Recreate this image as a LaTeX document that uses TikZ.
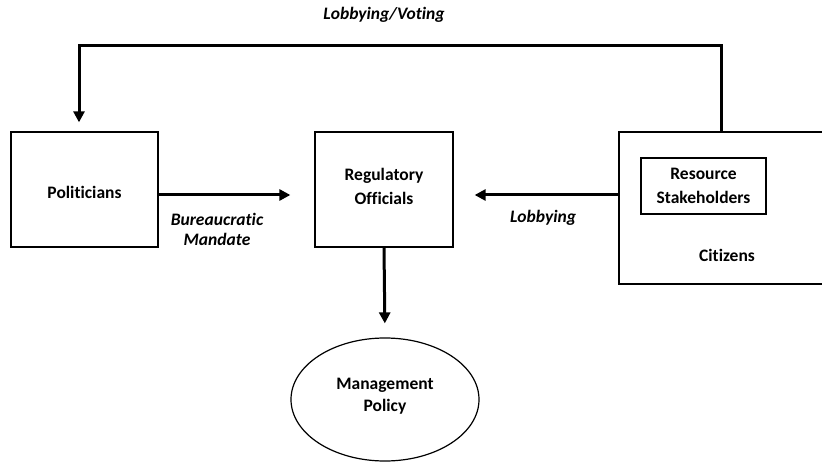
\documentclass[tikz,border=0pt]{standalone}
\usepackage{fontspec}
\setmainfont[Ligatures=NoCommon]{Carlito}
\usetikzlibrary{arrows.meta,shapes.geometric}
\tikzset{
  box/.style={draw=black, line width=1.3pt, rectangle, inner sep=0pt, align=center,
    font=\bfseries\fontsize{17.5}{24}\selectfont},
  lbl/.style={inner sep=0pt, align=center, font=\bfseries\fontsize{17.5}{24}\selectfont},
  ilbl/.style={inner sep=0pt, align=center, font=\bfseries\itshape\fontsize{17.5}{20}\selectfont},
  flow/.style={line width=3pt, -{Triangle[length=11pt,width=11pt]}}
}
\begin{document}
\begin{tikzpicture}[x=1pt,y=-1pt]
\useasboundingbox (0,0) rectangle (822,462);
\clip (0,0) rectangle (822,462);
\node[box, minimum width=147pt, minimum height=115pt] (pol) at (84.5,189.5) {};
\node[lbl] (polt) at (84.5,192) {Politicians};
\node[box, minimum width=138pt, minimum height=115pt] (reg) at (384,189.5) {};
\node[lbl] (regt) at (384,186) {Regulatory\\Officials};
\node[box, minimum width=211pt, minimum height=152pt] (cit) at (724.5,208) {};
\node[box, minimum width=125pt, minimum height=56pt] (res) at (703.5,186) {Resource\\Stakeholders};
\node[lbl] (citt) at (727,255) {Citizens};
\node[box, ellipse, minimum width=188pt, minimum height=123pt, line width=1.2pt] (mp) at (385,399.5) {};
\node[lbl, font=\bfseries\fontsize{17.5}{22}\selectfont] (mpt) at (385,396) {Management\\Policy};
\node[ilbl] (lv) at (384,15) {Lobbying/Voting};
\node[ilbl] (bm) at (217,229) {Bureaucratic\\Mandate};
\node[ilbl] (lob) at (543,218) {Lobbying};
\coordinate (c1) at (721,45.7);
\coordinate (c2) at (79,45.7);
\coordinate (ay) at (0,195);
\draw[flow, line cap=rect, line join=miter, shorten >=9pt] (cit.north -| c1) -- (c1) -- (c2) -- (pol.north -| c2);
\draw[flow, shorten >=24pt] (pol.east |- ay) -- (reg.west |- ay);
\draw[flow, shorten >=21pt] (cit.west |- ay) -- (reg.east |- ay);
\draw[flow, shorten >=14pt] (reg.south) -- (mp.north);
\end{tikzpicture}
\end{document}
